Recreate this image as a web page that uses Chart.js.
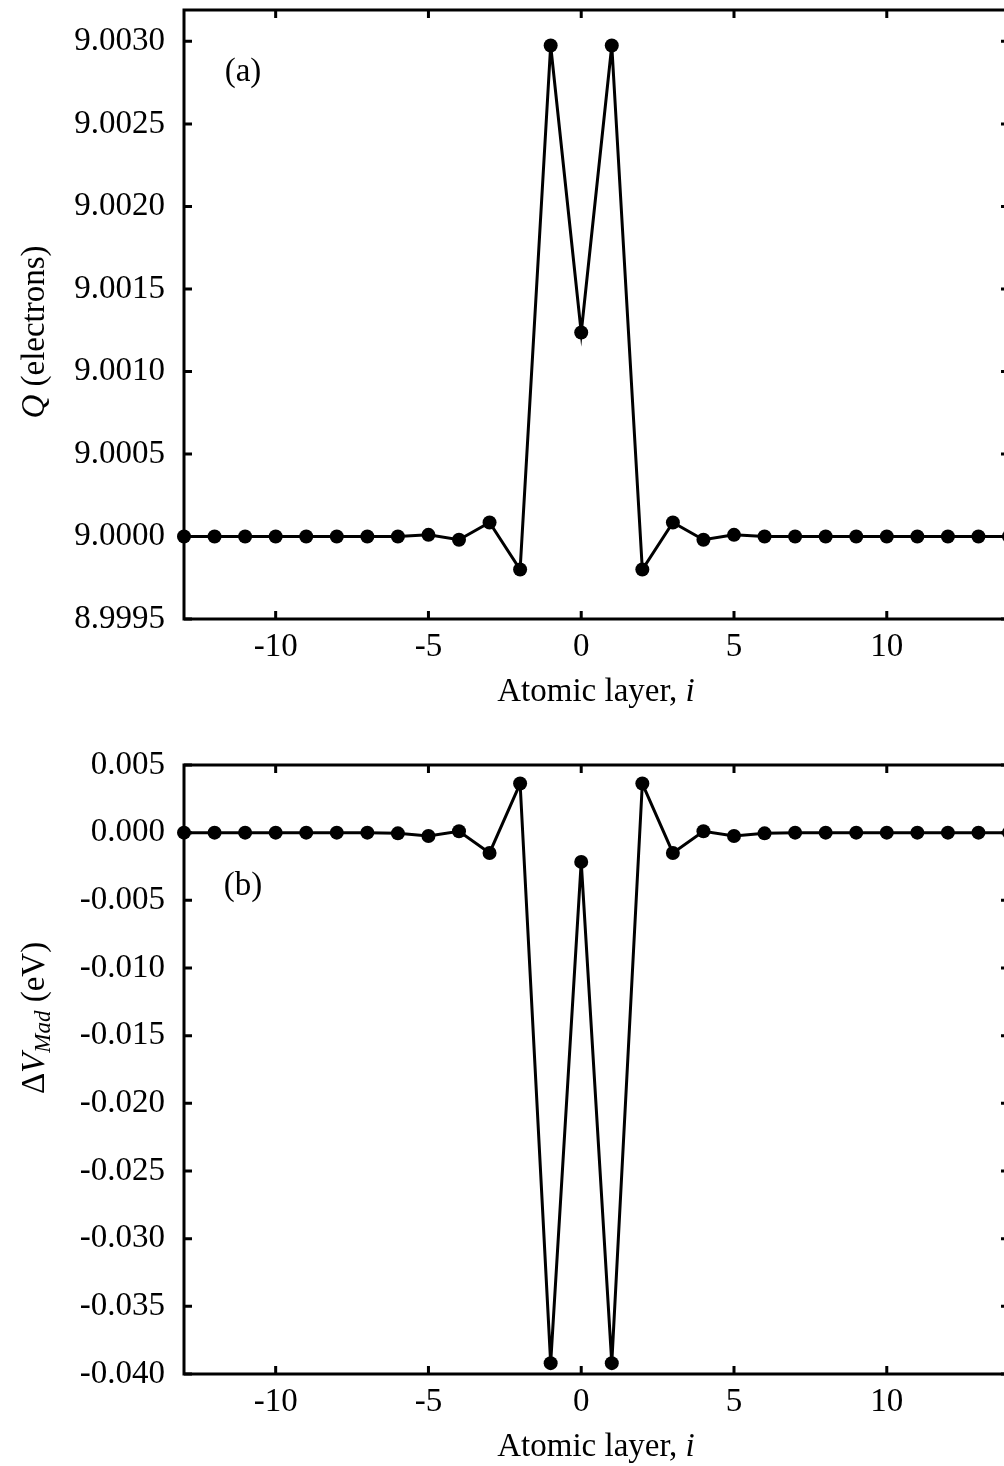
<!DOCTYPE html>
<html>
<head>
<meta charset="utf-8">
<script src="https://cdn.jsdelivr.net/npm/chart.js@4.4.1/dist/chart.umd.min.js"></script>
<style>
html, body { margin: 0; padding: 0; background: #fff; overflow: hidden; width: 1004px; height: 1466px; }
.panel { position: absolute; left: 0; width: 1010px; }
</style>
</head>
<body>
<div class="panel" style="top:0;height:755px"><canvas id="chartA" width="1010" height="755"></canvas></div>
<div class="panel" style="top:725px;height:785px"><canvas id="chartB" width="1010" height="785"></canvas></div>
<script>
// atomic layer index
var layers = [-13, -12, -11, -10, -9, -8, -7, -6, -5, -4, -3, -2, -1, 0,
              1, 2, 3, 4, 5, 6, 7, 8, 9, 10, 11, 12, 13, 14];

// (a) charge Q per layer (electrons)
var chargeQ = [9.0000, 9.0000, 9.0000, 9.0000, 9.0000, 9.0000, 9.0000, 9.0000,
               9.00001, 8.99998, 9.000085, 8.99980, 9.002975, 9.001236,
               9.002975, 8.99980, 9.000085, 8.99998, 9.00001, 9.0000,
               9.0000, 9.0000, 9.0000, 9.0000, 9.0000, 9.0000, 9.0000, 9.0000];

// (b) Madelung potential shift per layer (eV)
var deltaVMad = [0, 0, 0, 0, 0, 0, 0, -0.00005,
                 -0.00025, 0.0001, -0.0015, 0.00363, -0.0392, -0.00216,
                 -0.0392, 0.00363, -0.0015, 0.0001, -0.00025, -0.00005,
                 0, 0, 0, 0, 0, 0, 0, 0];

// tick labels
var xTicks = [-10, -5, 0, 5, 10];
var yTicksA = [8.9995, 9.0000, 9.0005, 9.0010, 9.0015, 9.0020, 9.0025, 9.0030];
var yTicksB = [-0.040, -0.035, -0.030, -0.025, -0.020, -0.015, -0.010, -0.005, 0.000, 0.005];

var SERIF = "'Liberation Serif', 'DejaVu Serif', serif";
var FS = 33;

function toPoints(ys) {
    return layers.map(function (x, i) { return { x: x, y: ys[i] }; });
}

// draw text made of several runs (mixed italic / subscript), centered on x
function drawRuns(ctx, runs, x, y) {
    var total = 0;
    runs.forEach(function (r) {
        ctx.font = r.font;
        r.w = ctx.measureText(r.text).width;
        total += r.w;
    });
    var cx = x - total / 2;
    ctx.textAlign = 'left';
    ctx.textBaseline = 'alphabetic';
    runs.forEach(function (r) {
        ctx.font = r.font;
        ctx.fillText(r.text, cx, y + (r.dy || 0));
        cx += r.w;
    });
}

function noPad(s) {
    s.paddingTop = 0; s.paddingBottom = 0;
    s.paddingLeft = 0; s.paddingRight = 0;
}

// box frame with inward ticks on all four sides
var framePlugin = {
    id: 'frame',
    beforeDatasetsDraw: function (chart) {
        var ctx = chart.ctx, a = chart.chartArea;
        var xs = chart.scales.x, ys = chart.scales.y;
        ctx.save();
        ctx.strokeStyle = '#000';
        ctx.lineWidth = 3;
        ctx.strokeRect(a.left, a.top, a.right - a.left, a.bottom - a.top);
        ctx.beginPath();
        xs.ticks.forEach(function (t) {
            var px = xs.getPixelForValue(t.value);
            ctx.moveTo(px, a.bottom); ctx.lineTo(px, a.bottom - 8);
            ctx.moveTo(px, a.top); ctx.lineTo(px, a.top + 8);
        });
        ys.ticks.forEach(function (t) {
            var py = ys.getPixelForValue(t.value);
            ctx.moveTo(a.left, py); ctx.lineTo(a.left + 8, py);
            ctx.moveTo(a.right, py); ctx.lineTo(a.right - 8, py);
        });
        ctx.stroke();
        ctx.restore();
    }
};

function makeChart(id, values, yMin, yMax, yTicks, digits, padTop, drawLabels) {
    var ctx = document.getElementById(id).getContext('2d');
    return new Chart(ctx, {
        type: 'line',
        data: {
            datasets: [{
                data: toPoints(values),
                borderColor: '#000',
                borderWidth: 3,
                backgroundColor: '#000',
                pointRadius: 7,
                pointBackgroundColor: '#000',
                pointBorderWidth: 0,
                tension: 0,
                clip: false
            }]
        },
        options: {
            responsive: false,
            animation: false,
            layout: { autoPadding: false, padding: { top: padTop, left: 0, right: 1, bottom: 0 } },
            plugins: { legend: { display: false }, tooltip: { enabled: false } },
            scales: {
                x: {
                    type: 'linear',
                    min: -13,
                    max: 14,
                    afterBuildTicks: function (s) {
                        s.ticks = xTicks.map(function (v) { return { value: v }; });
                    },
                    afterFit: function (s) { s.height = 136; noPad(s); },
                    grid: { display: false, drawTicks: false },
                    border: { display: false },
                    ticks: {
                        color: '#000',
                        font: { family: SERIF, size: FS },
                        padding: 9,
                        maxRotation: 0,
                        autoSkip: false
                    }
                },
                y: {
                    type: 'linear',
                    min: yMin,
                    max: yMax,
                    afterBuildTicks: function (s) {
                        s.ticks = yTicks.map(function (v) { return { value: v }; });
                    },
                    afterFit: function (s) { s.width = 184; noPad(s); },
                    grid: { display: false, drawTicks: false },
                    border: { display: false },
                    ticks: {
                        color: '#000',
                        font: { family: SERIF, size: FS },
                        padding: 19,
                        autoSkip: false,
                        callback: function (v) { return Number(v).toFixed(digits); }
                    }
                }
            }
        },
        plugins: [framePlugin, { id: 'labels', afterDraw: drawLabels }]
    });
}

function drawXTitle(ctx, y) {
    drawRuns(ctx, [
        { text: 'Atomic layer, ', font: FS + 'px ' + SERIF },
        { text: 'i', font: 'italic ' + FS + 'px ' + SERIF }
    ], 596, y);
}

makeChart('chartA', chargeQ, 8.9995, 9.00319, yTicksA, 4, 10, function (chart) {
    var ctx = chart.ctx;
    ctx.save();
    ctx.fillStyle = '#000';
    drawXTitle(ctx, 701);
    ctx.font = FS + 'px ' + SERIF;
    ctx.textAlign = 'center';
    ctx.textBaseline = 'middle';
    ctx.fillText('(a)', 243, 72);
    ctx.translate(44, 332);
    ctx.rotate(-Math.PI / 2);
    drawRuns(ctx, [
        { text: 'Q', font: 'italic ' + FS + 'px ' + SERIF },
        { text: ' (electrons)', font: FS + 'px ' + SERIF }
    ], 0, 0);
    ctx.restore();
});

// bottom canvas starts at page y=725
makeChart('chartB', deltaVMad, -0.040, 0.005, yTicksB, 3, 40, function (chart) {
    var ctx = chart.ctx;
    ctx.save();
    ctx.fillStyle = '#000';
    drawXTitle(ctx, 731);
    ctx.font = FS + 'px ' + SERIF;
    ctx.textAlign = 'center';
    ctx.textBaseline = 'middle';
    ctx.fillText('(b)', 243, 161);
    ctx.translate(44, 293);
    ctx.rotate(-Math.PI / 2);
    drawRuns(ctx, [
        { text: '\u0394', font: FS + 'px ' + SERIF },
        { text: 'V', font: 'italic ' + FS + 'px ' + SERIF },
        { text: 'Mad', font: 'italic 23px ' + SERIF, dy: 6 },
        { text: ' (eV)', font: FS + 'px ' + SERIF }
    ], 0, 0);
    ctx.restore();
});
</script>
</body>
</html>
